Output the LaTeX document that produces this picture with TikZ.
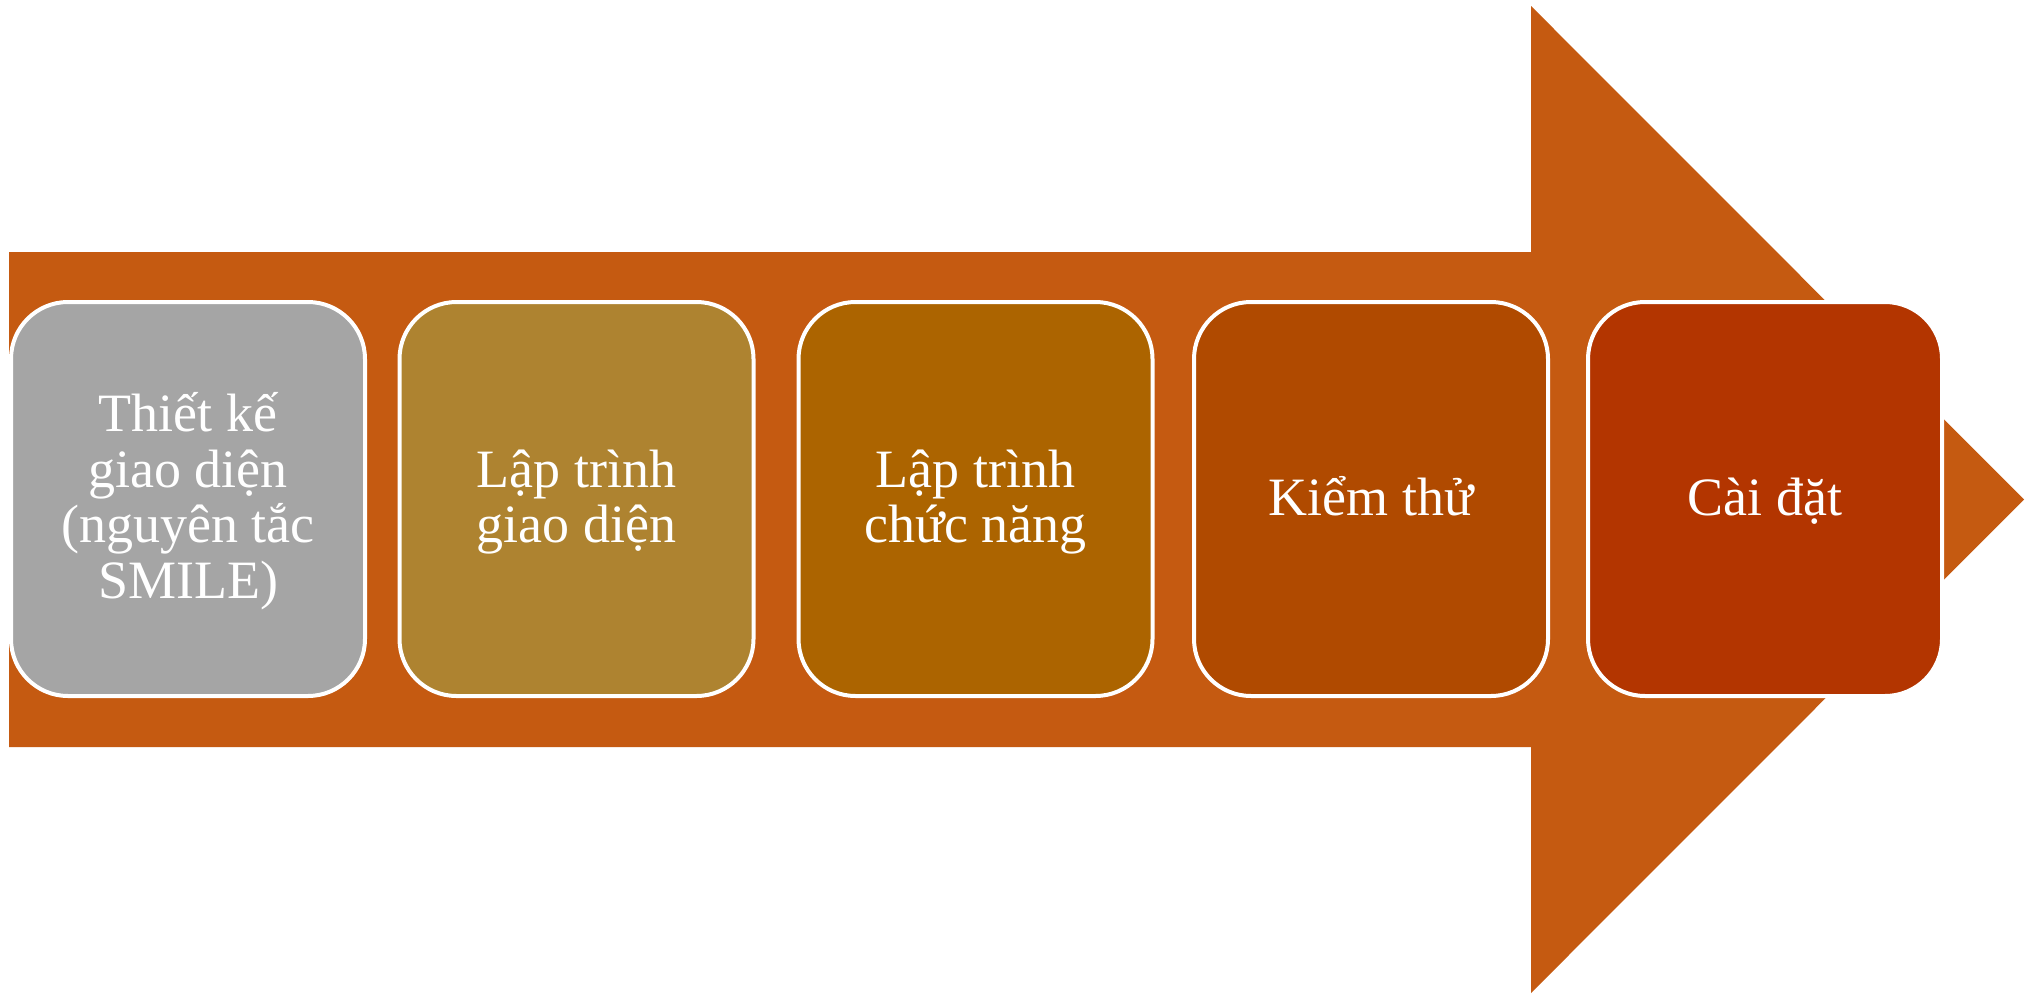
\documentclass[tikz,border=0pt]{standalone}
\usepackage{fontspec}
\setmainfont{Liberation Serif}
\definecolor{arrowc}{HTML}{C55A11}
\definecolor{cA}{HTML}{A5A5A5}
\definecolor{cB}{HTML}{AE8330}
\definecolor{cC}{HTML}{AC6400}
\definecolor{cD}{HTML}{B04A00}
\definecolor{cE}{HTML}{B33500}
\newcommand{\ls}{\rule[-11.75pt]{0pt}{55.5pt}}
\begin{document}
\begin{tikzpicture}[x=1pt,y=-1pt,
  stepbox/.style={draw=white, line width=4pt, rounded corners=57pt,
    minimum width=354pt, minimum height=394pt, inner sep=0pt,
    text=white, align=center, font=\fontsize{54}{55.5}\selectfont}]
\useasboundingbox (0,0) rectangle (2025,993);
\fill[arrowc] (9,252) -- (1531,252) -- (1531,6) -- (2024,499.5) -- (1531,993) -- (1531,747) -- (9,747) -- cycle;
\node[stepbox, fill=cA] (s1) at (188,499) {\ls Thiết kế\\\ls giao diện\\\ls (nguyên tắc\\\ls SMILE)};
\node[stepbox, fill=cB] (s2) at (576.5,499) {\ls Lập trình\\\ls giao diện};
\node[stepbox, fill=cC] (s3) at (975.5,499) {\ls Lập trình\\\ls chức năng};
\node[stepbox, fill=cD] (s4) at (1371,499) {\ls Kiểm thử};
\node[stepbox, fill=cE] (s5) at (1765,499) {\ls Cài đặt};
\end{tikzpicture}
\end{document}
